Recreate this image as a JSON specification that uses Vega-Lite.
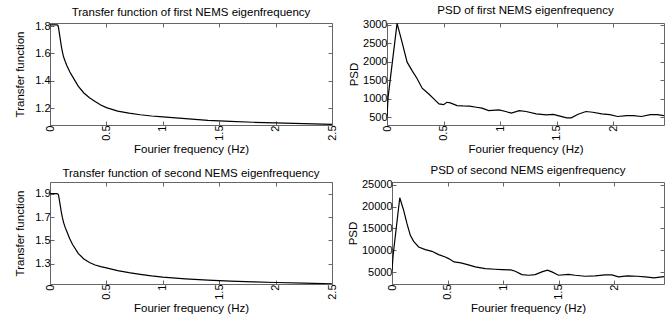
{
  "$schema": "https://vega.github.io/schema/vega-lite/v6.json",
  "padding": {"left": 14, "top": 4, "right": 0, "bottom": 0},
  "background": "white",
  "datasets": {
    "tf1": [
      {"f":0,"v":1.808},{"f":0.03,"v":1.808},{"f":0.06,"v":1.808},{"f":0.07,"v":1.805},{"f":0.075,"v":1.79},{"f":0.08,"v":1.765},{"f":0.085,"v":1.735},{"f":0.09,"v":1.71},{"f":0.1,"v":1.655},{"f":0.11,"v":1.61},{"f":0.12,"v":1.575},{"f":0.135,"v":1.54},{"f":0.15,"v":1.51},{"f":0.175,"v":1.465},{"f":0.2,"v":1.43},{"f":0.25,"v":1.36},{"f":0.3,"v":1.31},{"f":0.35,"v":1.275},{"f":0.4,"v":1.248},{"f":0.45,"v":1.222},{"f":0.5,"v":1.203},{"f":0.6,"v":1.178},{"f":0.7,"v":1.163},{"f":0.8,"v":1.151},{"f":0.9,"v":1.142},{"f":1.0,"v":1.135},{"f":1.2,"v":1.122},{"f":1.4,"v":1.11},{"f":1.6,"v":1.102},{"f":1.8,"v":1.096},{"f":2.0,"v":1.091},{"f":2.25,"v":1.086},{"f":2.5,"v":1.081}
    ],
    "tf2": [
      {"f":0,"v":1.9},{"f":0.03,"v":1.9},{"f":0.06,"v":1.9},{"f":0.07,"v":1.898},{"f":0.075,"v":1.89},{"f":0.08,"v":1.865},{"f":0.085,"v":1.835},{"f":0.09,"v":1.805},{"f":0.1,"v":1.745},{"f":0.11,"v":1.695},{"f":0.12,"v":1.655},{"f":0.135,"v":1.61},{"f":0.15,"v":1.575},{"f":0.175,"v":1.515},{"f":0.2,"v":1.465},{"f":0.25,"v":1.39},{"f":0.3,"v":1.342},{"f":0.35,"v":1.312},{"f":0.4,"v":1.29},{"f":0.45,"v":1.277},{"f":0.5,"v":1.266},{"f":0.6,"v":1.243},{"f":0.7,"v":1.225},{"f":0.8,"v":1.21},{"f":0.9,"v":1.197},{"f":1.0,"v":1.187},{"f":1.2,"v":1.172},{"f":1.4,"v":1.161},{"f":1.6,"v":1.153},{"f":1.8,"v":1.146},{"f":2.0,"v":1.141},{"f":2.25,"v":1.135},{"f":2.5,"v":1.13}
    ],
    "psd1": [
      {"f":0,"v":520},{"f":0.01,"v":1050},{"f":0.089,"v":3040},{"f":0.133,"v":2530},{"f":0.178,"v":1990},{"f":0.222,"v":1760},{"f":0.267,"v":1540},{"f":0.311,"v":1285},{"f":0.37,"v":1130},{"f":0.43,"v":950},{"f":0.46,"v":860},{"f":0.5,"v":840},{"f":0.53,"v":905},{"f":0.56,"v":890},{"f":0.62,"v":815},{"f":0.67,"v":805},{"f":0.73,"v":800},{"f":0.79,"v":770},{"f":0.84,"v":745},{"f":0.9,"v":680},{"f":0.99,"v":700},{"f":1.05,"v":655},{"f":1.1,"v":610},{"f":1.17,"v":680},{"f":1.23,"v":655},{"f":1.32,"v":590},{"f":1.41,"v":565},{"f":1.47,"v":575},{"f":1.53,"v":530},{"f":1.59,"v":485},{"f":1.63,"v":485},{"f":1.69,"v":580},{"f":1.76,"v":655},{"f":1.82,"v":635},{"f":1.9,"v":590},{"f":1.97,"v":570},{"f":2.04,"v":520},{"f":2.12,"v":545},{"f":2.18,"v":545},{"f":2.25,"v":520},{"f":2.33,"v":570},{"f":2.39,"v":570},{"f":2.45,"v":545}
    ],
    "psd2": [
      {"f":0,"v":5440},{"f":0.01,"v":8860},{"f":0.07,"v":22000},{"f":0.105,"v":19130},{"f":0.135,"v":16080},{"f":0.165,"v":13420},{"f":0.195,"v":12050},{"f":0.24,"v":10760},{"f":0.3,"v":10150},{"f":0.36,"v":9770},{"f":0.42,"v":9010},{"f":0.48,"v":8480},{"f":0.51,"v":8100},{"f":0.56,"v":7340},{"f":0.62,"v":7110},{"f":0.68,"v":6730},{"f":0.75,"v":6200},{"f":0.84,"v":5820},{"f":0.93,"v":5670},{"f":0.99,"v":5590},{"f":1.07,"v":5510},{"f":1.11,"v":5210},{"f":1.17,"v":4450},{"f":1.23,"v":4300},{"f":1.29,"v":4450},{"f":1.35,"v":5060},{"f":1.4,"v":5440},{"f":1.44,"v":5060},{"f":1.5,"v":4300},{"f":1.59,"v":4520},{"f":1.65,"v":4300},{"f":1.74,"v":4070},{"f":1.83,"v":4140},{"f":1.92,"v":4370},{"f":1.98,"v":4370},{"f":2.04,"v":3920},{"f":2.12,"v":4140},{"f":2.21,"v":4070},{"f":2.28,"v":3920},{"f":2.36,"v":3690},{"f":2.45,"v":3990}
    ]
  },
  "spacing": 8,
  "vconcat": [
    {
      "bounds": "flush",
      "spacing": 55,
      "hconcat": [
        {
          "title": {"text": "Transfer function of first NEMS eigenfrequency"},
          "width": 282, "height": 102,
          "data": {"name": "tf1"},
          "layer": [
            {"mark": {"type": "line", "color": "black", "strokeWidth": 1.2, "clip": true},
             "encoding": {
               "x": {"field": "f", "type": "quantitative", "scale": {"domain": [0, 2.5], "nice": false, "zero": false}, "axis": {"orient": "bottom", "values": [0, 0.5, 1, 1.5, 2, 2.5], "title": "Fourier frequency (Hz)", "labelAngle": 270}},
               "y": {"field": "v", "type": "quantitative", "scale": {"domain": [1.076, 1.822], "nice": false, "zero": false}, "axis": {"orient": "left", "values": [1.2, 1.4, 1.6, 1.8], "title": "Transfer function"}}
             }},
            {"mark": {"type": "line", "opacity": 0},
             "encoding": {
               "x": {"field": "f", "type": "quantitative", "axis": {"orient": "top", "values": [0, 0.5, 1, 1.5, 2, 2.5], "labels": false, "title": null}},
               "y": {"field": "v", "type": "quantitative", "axis": {"orient": "right", "values": [1.2, 1.4, 1.6, 1.8], "labels": false, "title": null}}
             }}
          ],
          "resolve": {"axis": {"x": "independent", "y": "independent"}}
        },
        {
          "title": {"text": "PSD of first NEMS eigenfrequency"},
          "width": 277, "height": 102,
          "data": {"name": "psd1"},
          "layer": [
            {"mark": {"type": "line", "color": "black", "strokeWidth": 1.2, "clip": true},
             "encoding": {
               "x": {"field": "f", "type": "quantitative", "scale": {"domain": [0, 2.45], "nice": false, "zero": false}, "axis": {"orient": "bottom", "values": [0, 0.5, 1, 1.5, 2], "title": "Fourier frequency (Hz)", "labelAngle": 270}},
               "y": {"field": "v", "type": "quantitative", "scale": {"domain": [290, 3050], "nice": false, "zero": false}, "axis": {"orient": "left", "values": [500, 1000, 1500, 2000, 2500, 3000], "title": "PSD", "titlePadding": 3}}
             }},
            {"mark": {"type": "line", "opacity": 0},
             "encoding": {
               "x": {"field": "f", "type": "quantitative", "axis": {"orient": "top", "values": [0, 0.5, 1, 1.5, 2], "labels": false, "title": null}},
               "y": {"field": "v", "type": "quantitative", "axis": {"orient": "right", "values": [500, 1000, 1500, 2000, 2500, 3000], "labels": false, "title": null}}
             }}
          ],
          "resolve": {"axis": {"x": "independent", "y": "independent"}}
        }
      ]
    },
    {
      "bounds": "flush",
      "spacing": 60,
      "hconcat": [
        {
          "title": {"text": "Transfer function of second NEMS eigenfrequency"},
          "width": 282, "height": 102,
          "data": {"name": "tf2"},
          "layer": [
            {"mark": {"type": "line", "color": "black", "strokeWidth": 1.2, "clip": true},
             "encoding": {
               "x": {"field": "f", "type": "quantitative", "scale": {"domain": [0, 2.5], "nice": false, "zero": false}, "axis": {"orient": "bottom", "values": [0, 0.5, 1, 1.5, 2, 2.5], "title": "Fourier frequency (Hz)", "labelAngle": 270}},
               "y": {"field": "v", "type": "quantitative", "scale": {"domain": [1.128, 2.0], "nice": false, "zero": false}, "axis": {"orient": "left", "values": [1.3, 1.5, 1.7, 1.9], "title": "Transfer function"}}
             }},
            {"mark": {"type": "line", "opacity": 0},
             "encoding": {
               "x": {"field": "f", "type": "quantitative", "axis": {"orient": "top", "values": [0, 0.5, 1, 1.5, 2, 2.5], "labels": false, "title": null}},
               "y": {"field": "v", "type": "quantitative", "axis": {"orient": "right", "values": [1.3, 1.5, 1.7, 1.9], "labels": false, "title": null}}
             }}
          ],
          "resolve": {"axis": {"x": "independent", "y": "independent"}}
        },
        {
          "title": {"text": "PSD of second NEMS eigenfrequency"},
          "width": 272, "height": 102,
          "data": {"name": "psd2"},
          "layer": [
            {"mark": {"type": "line", "color": "black", "strokeWidth": 1.2, "clip": true},
             "encoding": {
               "x": {"field": "f", "type": "quantitative", "scale": {"domain": [0, 2.45], "nice": false, "zero": false}, "axis": {"orient": "bottom", "values": [0, 0.5, 1, 1.5, 2], "title": "Fourier frequency (Hz)", "labelAngle": 270}},
               "y": {"field": "v", "type": "quantitative", "scale": {"domain": [2300, 25600], "nice": false, "zero": false}, "axis": {"orient": "left", "values": [5000, 10000, 15000, 20000, 25000], "title": "PSD", "titlePadding": 3}}
             }},
            {"mark": {"type": "line", "opacity": 0},
             "encoding": {
               "x": {"field": "f", "type": "quantitative", "axis": {"orient": "top", "values": [0, 0.5, 1, 1.5, 2], "labels": false, "title": null}},
               "y": {"field": "v", "type": "quantitative", "axis": {"orient": "right", "values": [5000, 10000, 15000, 20000, 25000], "labels": false, "title": null}}
             }}
          ],
          "resolve": {"axis": {"x": "independent", "y": "independent"}}
        }
      ]
    }
  ],
  "config": {
    "font": "Liberation Sans",
    "view": {"stroke": "#666", "strokeWidth": 1},
    "title": {"fontSize": 11.5, "fontWeight": "normal", "font": "Liberation Sans", "color": "black", "offset": 2, "anchor": "middle"},
    "axis": {
      "domain": false, "grid": false,
      "tickSize": -4, "tickColor": "#666", "tickWidth": 1,
      "labelFont": "Liberation Sans", "labelFontSize": 11, "labelColor": "black", "labelPadding": 4, "format": ".6~g",
      "titleFont": "Liberation Sans", "titleFontSize": 11.5, "titleFontWeight": "normal", "titleColor": "black"
    },
    "axisX": {"titlePadding": 3},
    "axisY": {"titlePadding": 9}
  }
}
